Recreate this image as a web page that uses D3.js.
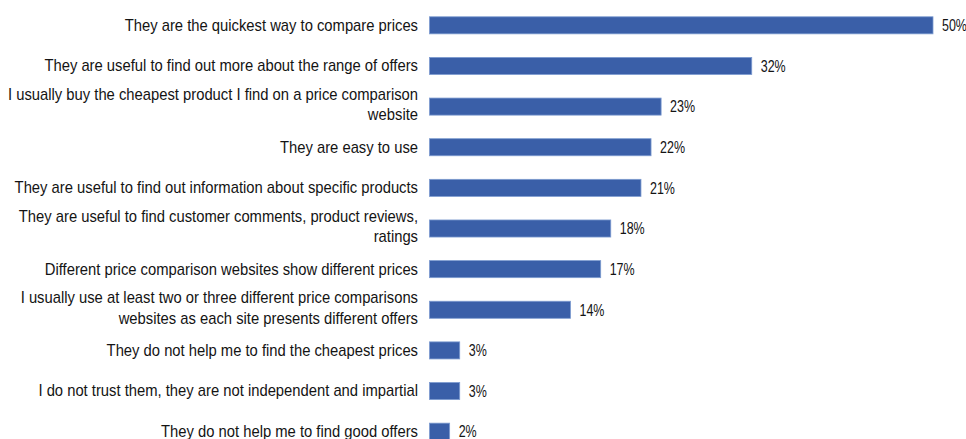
<!DOCTYPE html>
<html>
<head>
<meta charset="utf-8">
<script src="https://cdn.jsdelivr.net/npm/d3@7"></script>
<style>
  html, body { margin: 0; padding: 0; background: #fff; }
  svg text { font-family: "Liberation Sans", Arial, sans-serif; fill: #141414; }
</style>
</head>
<body>
<svg id="chart" width="966" height="439"></svg>
<script>
// Reasons given for using price comparison websites
const categories = [
  ["They are the quickest way to compare prices"],
  ["They are useful to find out more about the range of offers"],
  ["I usually buy the cheapest product I find on a price comparison", "website"],
  ["They are easy to use"],
  ["They are useful to find out information about specific products"],
  ["They are useful to find customer comments, product reviews,", "ratings"],
  ["Different price comparison websites show different prices"],
  ["I usually use at least two or three different price comparisons", "websites as each site presents different offers"],
  ["They do not help me to find the cheapest prices"],
  ["I do not trust them, they are not independent and impartial"],
  ["They do not help me to find good offers"]
];
const values = [50, 32, 23, 22, 21, 18, 17, 14, 3, 3, 2];

const svg = d3.select("#chart");
const left = 429.5;
const labelRight = 418;

const x = d3.scaleLinear().domain([0, 50]).range([left, 933]);
const y = d3.scaleBand()
  .domain(d3.range(values.length))
  .range([5, 452])
  .paddingInner(0.58)
  .paddingOuter(0.29);

const rows = svg.selectAll("g.row")
  .data(values.map((v, i) => ({ v, label: categories[i], i })))
  .join("g")
  .attr("class", "row");

rows.append("rect")
  .attr("x", x(0))
  .attr("y", d => y(d.i))
  .attr("width", d => x(d.v) - x(0))
  .attr("height", y.bandwidth())
  .attr("fill", "#3a5fa8")
  .attr("stroke", "#7d9bd0")
  .attr("stroke-width", 0.8);

// value labels in a condensed face
rows.append("text")
  .attr("transform", d => `translate(${x(d.v) + 9},${y(d.i) + y.bandwidth() / 2 + 5.8}) scale(0.78,1)`)
  .attr("font-size", 16)
  .text(d => d.v + "%");

// category labels, right-aligned, condensed
rows.each(function(d) {
  const g = d3.select(this);
  const cy = y(d.i) + y.bandwidth() / 2;
  const n = d.label.length;
  const lh = 20.5;
  const off = n > 1 ? 3.5 : 5.4;
  const t = g.append("text")
    .attr("text-anchor", "end")
    .attr("font-size", 17)
    .attr("transform", `translate(${labelRight},${cy}) scale(0.87,1)`);
  d.label.forEach((line, k) => {
    t.append("tspan")
      .attr("x", 0)
      .attr("y", (k - (n - 1) / 2) * lh + off)
      .text(line);
  });
});
</script>
</body>
</html>
